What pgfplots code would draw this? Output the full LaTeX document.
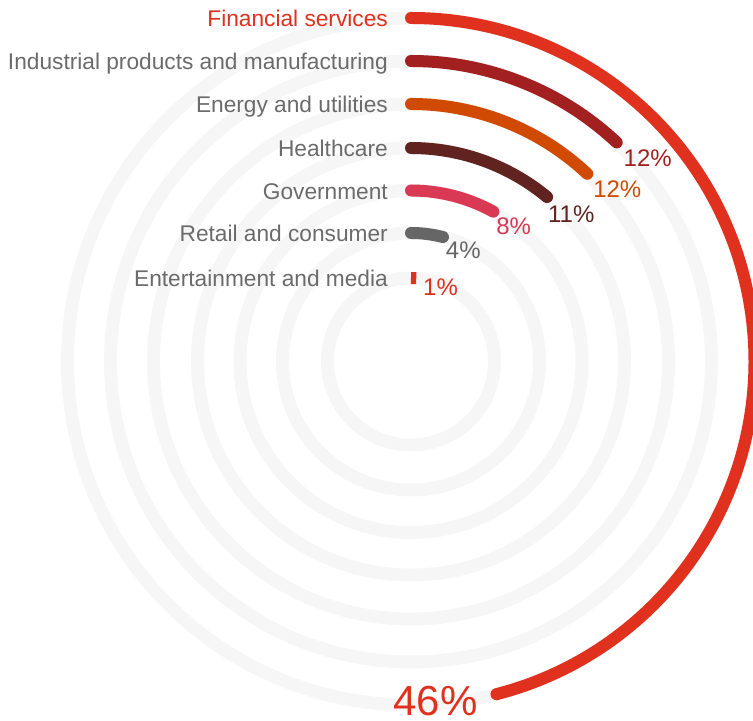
\documentclass[border=0pt]{standalone}
\usepackage{fontspec}
\setmainfont{Liberation Sans}
\usepackage{pgfplots}
\pgfplotsset{compat=1.18}

\definecolor{fin}{HTML}{E0301E}
\definecolor{ind}{HTML}{A32020}
\definecolor{ene}{HTML}{D04A02}
\definecolor{hea}{HTML}{602320}
\definecolor{gov}{HTML}{D93954}
\definecolor{ret}{HTML}{666666}
\definecolor{ent}{HTML}{E0301E}
\definecolor{ringgrey}{HTML}{F6F6F6}
\definecolor{labgrey}{HTML}{6B6B6B}

\begin{document}
\begin{tikzpicture}
\begin{axis}[
  x=1bp, y=1bp,
  xmin=-411, xmax=342, ymin=-359.5, ymax=361.5,
  axis line style={draw=none},
  ticks=none,
  clip marker paths=true,
]
% one ring per sector, outer to inner: radius r (bp), share v (%)
\addplot[scatter, only marks, mark=text, text mark={},
  visualization depends on={value \thisrow{r} \as \rad},
  visualization depends on={value \thisrow{v} \as \pct},
  visualization depends on={value \thisrow{col} \as \arccol},
  visualization depends on={value \thisrow{lcol} \as \labcol},
  visualization depends on={value \thisrow{cap} \as \arccap},
  visualization depends on={value \thisrow{anc} \as \labanc},
  visualization depends on={value \thisrow{dx} \as \ldx},
  visualization depends on={value \thisrow{dy} \as \ldy},
  visualization depends on={value \thisrow{fs} \as \lfs},
  visualization depends on={value \thisrow{name} \as \catname},
  scatter/@pre marker code/.code={%
    \begingroup
    \pgfkeys{/pgf/fpu=false}%
    \pgfmathsetmacro\endang{90-3.6*\pct}%
    \pgfmathsetlengthmacro\radlen{\rad*1bp}%
    \draw[ringgrey, line width=13bp] (0pt,0pt) arc[start angle=90, end angle=-270, radius=\radlen];
    \draw[color=\arccol, line width=12bp, line cap/.expanded=\arccap]
      (0pt,0pt) arc[start angle=90, end angle=\endang, radius=\radlen]
      node[anchor/.expanded=\labanc, inner sep=0pt, xshift=\ldx bp, yshift=\ldy bp,
           text=\arccol, font=\fontsize{\lfs bp}{\lfs bp}\selectfont] {\pct\%};
    \node[anchor=base east, inner sep=0pt, text=\labcol,
          font=\fontsize{22.7bp}{27bp}\selectfont] at (-23bp,-9bp) {\catname};%
    \endgroup
  },
  scatter/@post marker code/.code={}]
  table[col sep=comma, x=x, y=r] {
x,r,v,col,lcol,cap,anc,dx,dy,fs,name
0,343.5,46,fin,fin,round,north east,-13,14,42,Financial services
0,300.5,12,ind,labgrey,round,north west,1,-1,24,Industrial products and manufacturing
0,257.5,12,ene,labgrey,round,north west,0,-1,24,Energy and utilities
0,213.5,11,hea,labgrey,round,north west,-5,-3,24,Healthcare
0,171,8,gov,labgrey,round,north west,-3,0,24,Government
0,128.5,4,ret,labgrey,round,north west,-3,1,24,Retail and consumer
0,83.5,1,ent,labgrey,butt,north west,1,5,24,Entertainment and media
};
\end{axis}
\pgfresetboundingbox
\path[use as bounding box] (current axis.south west) rectangle (current axis.north east);
\end{tikzpicture}
\end{document}
